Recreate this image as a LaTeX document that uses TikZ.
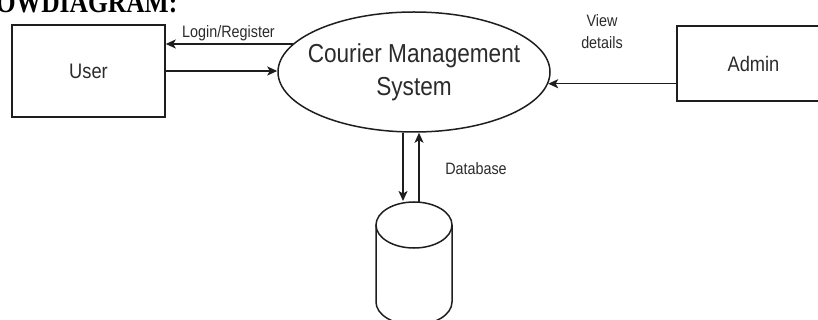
\documentclass[tikz,border=0pt]{standalone}
\usepackage{fontspec}
\usetikzlibrary{shapes.geometric,arrows.meta}
\newfontfamily\labfont[FakeStretch=0.87]{Liberation Sans}
\newfontfamily\headfont[FakeStretch=0.85]{Liberation Serif}
\definecolor{linec}{HTML}{1E1E1E}
\definecolor{textc}{HTML}{2B2B2B}
\begin{document}
\begin{tikzpicture}[x=1pt, y=-1pt, line width=1.5pt,
  box/.style={draw=linec, rectangle, minimum width=153pt, inner sep=0pt,
    text=textc, font=\labfont\fontsize{21}{25}\selectfont},
  flow/.style={draw=linec, -{Stealth[length=10pt,width=9pt,inset=2.5pt]}},
  lbl/.style={text=textc, inner sep=0pt, font=\labfont\fontsize{16.5}{22}\selectfont}]
\useasboundingbox (0,0) rectangle (818,320);
\clip (0,0) rectangle (818,320);

% heading
\node[anchor=base east, inner sep=0pt, text=black,
  font=\headfont\bfseries\fontsize{30}{36}\selectfont] (title) at (178,13) {OWDIAGRAM:};

% external entities
\node[box, minimum height=92pt] (user) at (88.5,71) {User};
\node[box, minimum height=75pt] (admin) at (753.5,63.5) {Admin};

% central process
\node[draw=linec, ellipse, minimum width=272pt, minimum height=120pt, inner sep=0pt] (cms) at (414,72) {};
\node[text=textc, align=center, inner sep=0pt,
  font=\labfont\fontsize{26}{33}\selectfont] (cmstext) at (cms.center) {Courier Management\\System};

% data store
\draw[linec] (414,225) ellipse [x radius=38, y radius=23];
\draw[linec] (376,225) -- (376,302) arc[start angle=180, end angle=0, x radius=38, y radius=23] -- (452,225);
\coordinate (dbin) at (403,201);
\coordinate (dbout) at (419,202);

% flows
\draw[flow] (cms.167.5) -- (cms.167.5 -| user.east);
\draw[flow] (user.east) -- (user.east -| cms.west);
\draw[flow] (cms.355.3 -| admin.west) -- (cms.355.3);
\draw[flow] (dbin |- cms.south) -- (dbin);
\draw[flow] (dbout) -- (dbout |- cms.south);

% flow labels
\node[lbl, anchor=base] (login) at (228.5,38) {Login/Register};
\node[lbl, align=center] (view) at (602,32) {View\\details};
\node[lbl, anchor=base] (dblabel) at (476,175) {Database};
\end{tikzpicture}
\end{document}
